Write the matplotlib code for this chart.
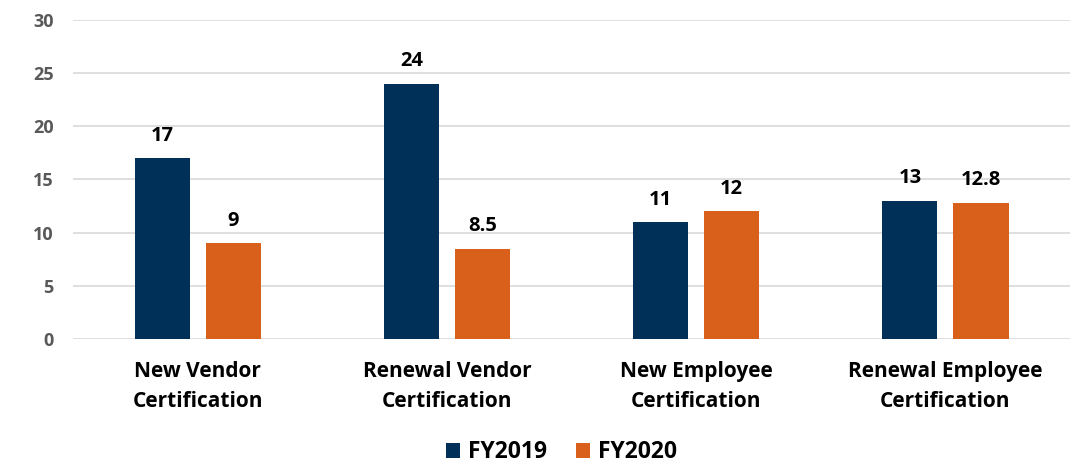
import numpy as np
import matplotlib
matplotlib.use('Agg')
import matplotlib.pyplot as plt

categories = ['New Vendor\nCertification', 'Renewal Vendor\nCertification',
              'New Employee\nCertification', 'Renewal Employee\nCertification']
fy2019 = [17, 24, 11, 13]
fy2020 = [9, 8.5, 12, 12.8]
labels2019 = ['17', '24', '11', '13']
labels2020 = ['9', '8.5', '12', '12.8']

c19 = '#003057'
c20 = '#D9601A'

plt.rcParams['font.family'] = ['Open Sans', 'DejaVu Sans']
plt.rcParams['font.weight'] = 'bold'

fig = plt.figure(figsize=(10.82, 4.65), dpi=100)
ax = fig.add_axes([0.0675, 0.271, 0.9215, 0.686])

x = np.arange(len(categories))
w = 0.221
off = 0.1425
b1 = ax.bar(x - off, fy2019, w, color=c19, label='FY2019', zorder=3)
b2 = ax.bar(x + off, fy2020, w, color=c20, label='FY2020', zorder=3)

for bars, labs in ((b1, labels2019), (b2, labels2020)):
    for r, t in zip(bars, labs):
        ax.annotate(t, (r.get_x() + r.get_width() / 2, r.get_height()),
                    xytext=(0, 9), textcoords='offset points', ha='center', va='bottom',
                    fontsize=14.5, fontweight='bold', color='black')

ax.set_xlim(-0.5, 3.5)
ax.set_ylim(0, 30)
ax.set_yticks(range(0, 31, 5))
ax.yaxis.grid(True, color='#D9D9D9', linewidth=1.2, zorder=0)
for s in ax.spines.values():
    s.set_visible(False)
ax.tick_params(axis='both', length=0)
ax.tick_params(axis='y', labelsize=13, labelcolor='#595959', pad=14)
ax.set_xticks(x)
ax.set_xticklabels(categories, fontsize=15, fontweight='bold', color='black', linespacing=1.55)
ax.tick_params(axis='x', pad=16)

fig.legend(loc='center', bbox_to_anchor=(0.519, 0.027), ncol=2, frameon=False,
           prop={'size': 16.5, 'weight': 'bold'}, handlelength=0.6, handleheight=0.6,
           columnspacing=1.3, handletextpad=0.35)

fig.savefig('out.png', dpi=100)
